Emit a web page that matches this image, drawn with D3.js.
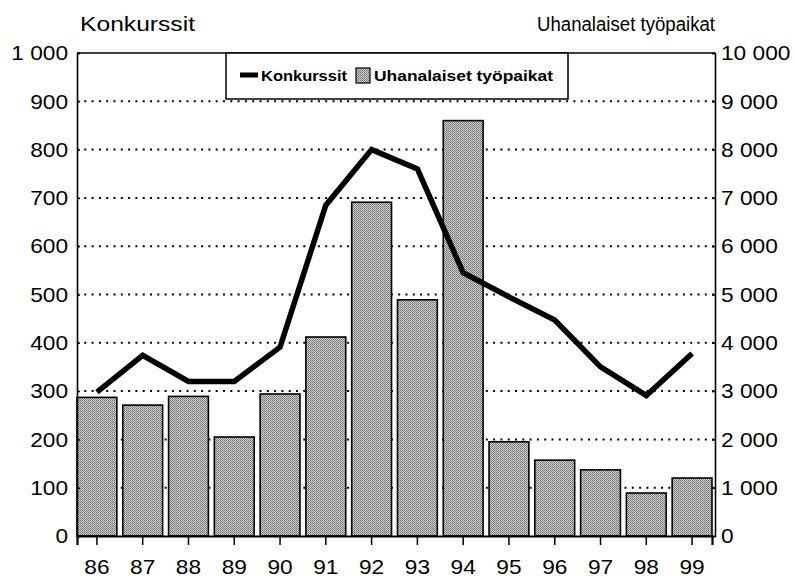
<!DOCTYPE html>
<html>
<head>
<meta charset="utf-8">
<script src="https://cdn.jsdelivr.net/npm/d3@7"></script>
<style>
  body { margin: 0; background: #fff; }
  text { font-family: "Liberation Sans", Arial, sans-serif; fill: #000; }
</style>
</head>
<body>
<div id="chart"></div>
<script>
// data
var years = ["86", "87", "88", "89", "90", "91", "92", "93", "94", "95", "96", "97", "98", "99"];
var konkurssit = [298, 374, 320, 320, 391, 685, 800, 760, 545, 495, 447, 350, 291, 378];
var tyopaikat = [2870, 2710, 2890, 2050, 2940, 4120, 6910, 4890, 8600, 1950, 1570, 1370, 890, 1200];
var leftTicks = [0, 100, 200, 300, 400, 500, 600, 700, 800, 900, 1000];
var rightTicks = [0, 1000, 2000, 3000, 4000, 5000, 6000, 7000, 8000, 9000, 10000];

var W = 795, H = 579;
var pLeft = 77, pRight = 715, pTop = 53, pBottom = 536;

var fi = d3.formatLocale({decimal: ",", thousands: "\u00a0", grouping: [3], currency: ["", ""]});
var fmt = fi.format(",d");

var svg = d3.select("#chart").append("svg")
  .attr("width", W).attr("height", H);

// halftone-ish fill for the bars
var defs = svg.append("defs");
var pat = defs.append("pattern")
  .attr("id", "dots").attr("patternUnits", "userSpaceOnUse")
  .attr("width", 2).attr("height", 2);
pat.append("rect").attr("width", 2).attr("height", 2).attr("fill", "#d0d0d0");
pat.append("rect").attr("width", 1).attr("height", 1).attr("fill", "#6e6e6e");
pat.append("rect").attr("x", 1).attr("y", 1).attr("width", 1).attr("height", 1).attr("fill", "#858585");

var x = d3.scaleBand().domain(years).range([pLeft, 712]).paddingInner(0.13).paddingOuter(0);
var y = d3.scaleLinear().domain([0, 1000]).range([pBottom, pTop]);
var y2 = d3.scaleLinear().domain([0, 10000]).range([pBottom, pTop]);

// dotted grid
svg.append("g").selectAll("line")
  .data(leftTicks.filter(function(d) { return d > 0 && d < 1000; }))
  .enter().append("line")
    .attr("x1", pLeft).attr("x2", pRight)
    .attr("y1", function(d) { return y(d); })
    .attr("y2", function(d) { return y(d); })
    .attr("stroke", "#000").attr("stroke-width", 2)
    .attr("stroke-dasharray", "2,5.3");

// bars
svg.append("g").selectAll("rect")
  .data(tyopaikat)
  .enter().append("rect")
    .attr("x", function(d, i) { return x(years[i]); })
    .attr("y", function(d) { return y2(d); })
    .attr("width", x.bandwidth())
    .attr("height", function(d) { return pBottom - y2(d); })
    .attr("fill", "url(#dots)")
    .attr("stroke", "#000").attr("stroke-width", 1.6);

// line
var line = d3.line()
  .x(function(d, i) { return x(years[i]) + x.bandwidth() / 2; })
  .y(function(d) { return y(d); });
svg.append("path")
  .datum(konkurssit)
  .attr("d", line)
  .attr("fill", "none").attr("stroke", "#000")
  .attr("stroke-width", 5.5).attr("stroke-linejoin", "miter");

// frame top
svg.append("line").attr("x1", pLeft).attr("x2", pRight).attr("y1", pTop).attr("y2", pTop)
  .attr("stroke", "#000").attr("stroke-width", 1.5);

// left axis
var gl = svg.append("g").attr("transform", "translate(" + pLeft + ",0)")
  .call(d3.axisLeft(y).tickValues(leftTicks).tickSize(-3).tickPadding(9).tickFormat(fmt));
// right axis
var gr = svg.append("g").attr("transform", "translate(" + pRight + ",0)")
  .call(d3.axisRight(y2).tickValues(rightTicks).tickSize(-3).tickPadding(6).tickFormat(fmt));
// bottom axis
var gb = svg.append("g").attr("transform", "translate(0," + pBottom + ")")
  .call(d3.axisBottom(x).tickSize(9).tickPadding(14));

[gl, gr, gb].forEach(function(g) {
  g.select(".domain").attr("stroke-width", 1.6);
  g.selectAll(".tick line").attr("stroke-width", 1.5);
  g.selectAll("text").attr("font-size", 21).attr("font-family", "Liberation Sans, Arial, sans-serif");
});
gb.select(".domain").attr("stroke-width", 2.2);
gb.selectAll("text").attr("dy", "0.71em");

// titles
svg.append("text").attr("x", 80).attr("y", 31)
  .attr("font-size", 20).text("Konkurssit")
  .attr("textLength", 115).attr("lengthAdjust", "spacingAndGlyphs");
svg.append("text").attr("x", 537).attr("y", 31)
  .attr("font-size", 20).text("Uhanalaiset työpaikat")
  .attr("textLength", 178).attr("lengthAdjust", "spacingAndGlyphs");

// legend
var lg = svg.append("g");
lg.append("rect").attr("x", 226).attr("y", 53).attr("width", 342).attr("height", 46)
  .attr("fill", "#fff").attr("stroke", "#000").attr("stroke-width", 1.5);
lg.append("line").attr("x1", 240).attr("x2", 258).attr("y1", 75).attr("y2", 75)
  .attr("stroke", "#000").attr("stroke-width", 5);
lg.append("text").attr("x", 261).attr("y", 81).attr("font-size", 15).attr("font-weight", "bold")
  .text("Konkurssit").attr("textLength", 86).attr("lengthAdjust", "spacingAndGlyphs");
lg.append("rect").attr("x", 356).attr("y", 68).attr("width", 14).attr("height", 15)
  .attr("fill", "url(#dots)").attr("stroke", "#000").attr("stroke-width", 1.2);
lg.append("text").attr("x", 374).attr("y", 81).attr("font-size", 15).attr("font-weight", "bold")
  .text("Uhanalaiset työpaikat").attr("textLength", 179).attr("lengthAdjust", "spacingAndGlyphs");

// stretch tick labels slightly, like the scanned original
svg.selectAll(".tick text").each(function() {
  var len = this.getComputedTextLength();
  d3.select(this).attr("textLength", len * 1.08).attr("lengthAdjust", "spacingAndGlyphs");
});
</script>
</body>
</html>
